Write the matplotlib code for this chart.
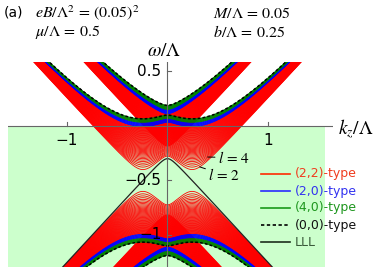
import numpy as np
import matplotlib
matplotlib.use("Agg")
import matplotlib.pyplot as plt

plt.rcParams["mathtext.fontset"] = "stix"

# parameters
eB = 0.05 ** 2
mu = 0.5
M = 0.05
b = 0.25

# Landau-level indices per family, for the two branches
# t = +1: sqrt(kz^2+M^2)+b ,  t = -1: sqrt(kz^2+M^2)-b
levels = {
    1: {"red": list(range(2, 57)), "blue": list(range(57, 67)), "green": list(range(67, 78)), "dash": 77},
    -1: {"red": list(range(2, 49)), "blue": list(range(49, 57)), "green": list(range(57, 65)), "dash": 64},
}

legend_labels = ["(2,2)-type", "(2,0)-type", "(4,0)-type", "(0,0)-type", "LLL"]
legend_colors = ["#f03c1e", "#3232f0", "#1e961e", "#111111", "#3a5a3a"]

x_ticks = [-1, 1]
x_ticklabels = ["\u22121", "1"]
y_ticks = [0.5, -0.5, -1]
y_ticklabels = ["0.5", "\u22120.5", "\u22121"]

kz = np.linspace(-1.65, 1.65, 1500)
s = np.sqrt(kz ** 2 + M ** 2)


def branches(l, t):
    E = np.sqrt((s + t * b) ** 2 + 2 * l * eB)
    return [E - mu, -E - mu]


fig = plt.figure(figsize=(3.78, 2.67), dpi=100)
ax = fig.add_axes([8 / 378, 0, 325 / 378, 205 / 267])
xmin, xmax = -1.587, 1.647
ymin, ymax = -1.294, 0.587
ax.set_xlim(xmin, xmax)
ax.set_ylim(ymin, ymax)
ax.axis("off")

ax.fill_between([xmin, 1.57], [ymin, ymin], [0, 0], color="#ccffcc", lw=0, zorder=0)

colors = {"red": "#ff0000", "blue": "#0000ff", "green": "#008000"}
zs = {"red": 2, "blue": 3, "green": 4}
for t in (1, -1):
    for fam in ("red", "blue", "green"):
        for l in levels[t][fam]:
            for w in branches(l, t):
                ax.plot(kz, w, color=colors[fam], lw=0.6, zorder=zs[fam])
    for w in branches(levels[t]["dash"], t):
        ax.plot(kz, w, color="black", lw=1.1, ls=(0, (1.8, 1.4)), zorder=5)
ax.plot(kz, b - s - mu, color="#222222", lw=0.9, zorder=6)

# axes
ax.axhline(0, color="#666666", lw=0.8, zorder=7)
ax.axvline(0, color="#666666", lw=0.8, zorder=7)
for t, lab in zip(x_ticks, x_ticklabels):
    ax.plot([t, t], [0, 0.035], color="#666666", lw=0.8, zorder=7)
    ax.text(t, -0.065, lab, ha="center", va="top", fontsize=11, zorder=8)
for t, lab in zip(y_ticks, y_ticklabels):
    ax.plot([0, 0.035], [t, t], color="#666666", lw=0.8, zorder=7)
    ax.text(-0.06, t, lab, ha="right", va="center", fontsize=11, zorder=8)

fig.text(164 / 378, 1 - 51 / 267, r"$\omega/\Lambda$", ha="center", va="center", fontsize=14)
fig.text(356 / 378, 1 - 129 / 267, r"$k_z/\Lambda$", ha="center", va="center", fontsize=14)

fig.text(4 / 378, 1 - 13 / 267, "(a)", ha="left", va="center", fontsize=10)
fig.text(35 / 378, 1 - 13 / 267, r"$eB/\Lambda^2\,=\,(0.05)^2$", ha="left", va="center", fontsize=11.5)
fig.text(35 / 378, 1 - 32 / 267, r"$\mu/\Lambda\,=\,0.5$", ha="left", va="center", fontsize=11.5)
fig.text(213 / 378, 1 - 13 / 267, r"$M/\Lambda\,=\,0.05$", ha="left", va="center", fontsize=11.5)
fig.text(213 / 378, 1 - 32 / 267, r"$b/\Lambda\,=\,0.25$", ha="left", va="center", fontsize=11.5)

# level annotations
ax.annotate(r"$l\,=\,4$", xy=(0.40, -0.285), xytext=(0.5, -0.29), fontsize=11, va="center",
            arrowprops=dict(arrowstyle="-", color="black", lw=0.7, shrinkA=0, shrinkB=0), zorder=9)
ax.annotate(r"$l\,=\,2$", xy=(0.32, -0.375), xytext=(0.405, -0.45), fontsize=11, va="center",
            arrowprops=dict(arrowstyle="-", color="black", lw=0.7, shrinkA=0, shrinkB=0), zorder=9)

# legend
ys = [174, 191, 208, 225, 242]
styles = ["-", "-", "-", (0, (2, 1.5)), "-"]
handle_colors = ["#ff2a00", "#2a2aff", "#1a9a1a", "black", "#1c2e1c"]
for yy, lab, col, hc, st in zip(ys, legend_labels, legend_colors, handle_colors, styles):
    fy = 1 - yy / 267
    fig.add_artist(plt.Line2D([261 / 378, 290 / 378], [fy, fy], color=hc, lw=1.2, ls=st))
    fig.text(295 / 378, fy, lab, color=col, ha="left", va="center", fontsize=9)

fig.savefig("out.png", dpi=100)
